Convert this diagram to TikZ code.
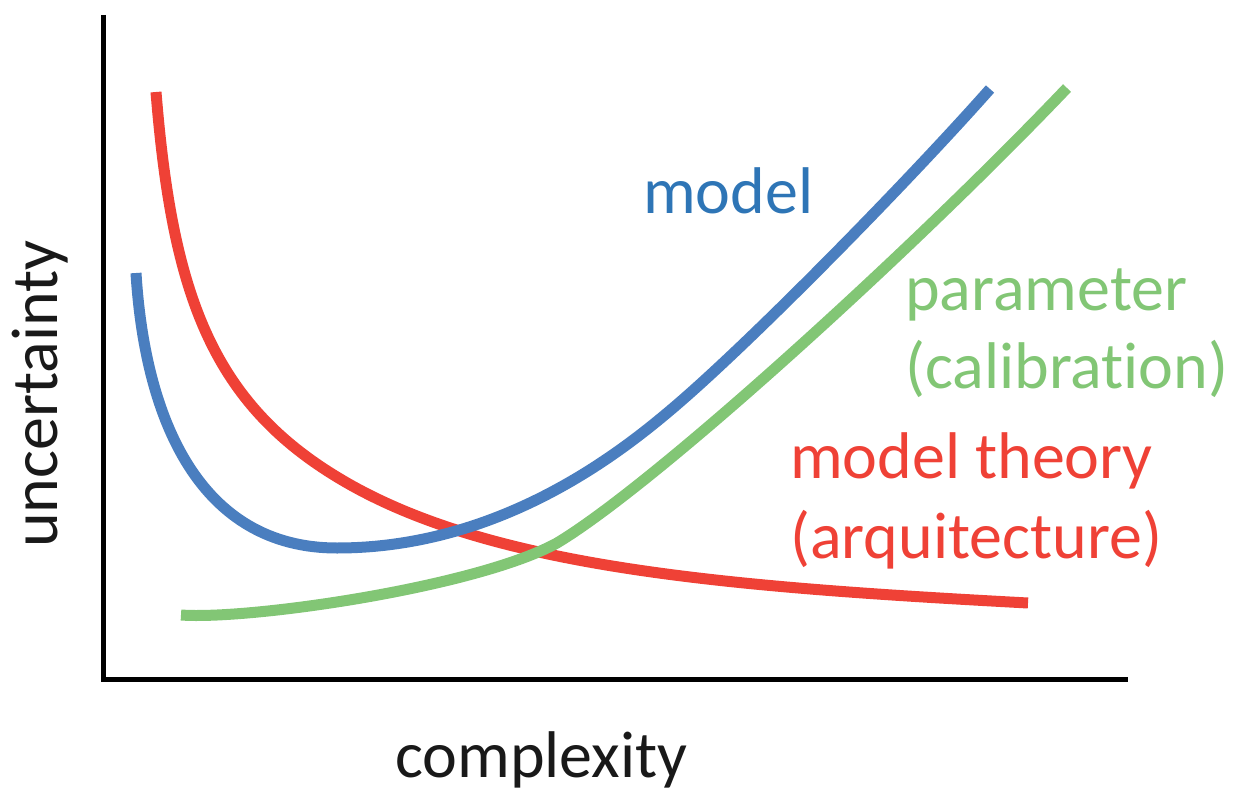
\documentclass[tikz,border=0pt]{standalone}
\usepackage{fontspec}
\setmainfont{Carlito}[Ligatures={NoCommon,NoDiscretionary,NoContextual}]
\definecolor{cred}{RGB}{239,65,54}
\definecolor{cblue}{RGB}{74,126,191}
\definecolor{cgreen}{RGB}{130,198,117}
\definecolor{tblue}{RGB}{46,117,182}
\begin{document}
\begin{tikzpicture}[x=1pt,y=-1pt,
  curve/.style={line width=11pt},
  axis/.style={line width=5pt,black},
  lbl/.style={inner sep=0pt,anchor=base west,font=\fontsize{66}{72}\selectfont}]
\useasboundingbox (0,0) rectangle (1251,797);
\coordinate (top) at (103,15);
\coordinate (origin) at (103,679);
\coordinate (right) at (1128,679);
\draw[axis] (top) -- (origin) -- (right);
% red: model theory
\draw[curve,cred] (156,92) .. controls (172,290) and (210,400) .. (337,477)
  .. controls (487,568.5) and (728,586.8) .. (1028,603);
% green: parameter
\draw[curve,cgreen] (181,615) .. controls (250,620) and (477,587) .. (557,543)
  .. controls (657,483) and (917,245.5) .. (1067,88);
% blue: model
\draw[curve,cblue] (136,273) .. controls (145,420) and (200,548) .. (337,548)
  .. controls (500,548) and (620,453) .. (673,408)
  .. controls (753,340) and (910,179.4) .. (990,89);
\node[lbl,tblue] (m) at (643,213) {model};
\node[lbl,cgreen] (p1) at (905,310) {parameter};
\node[lbl,cgreen] (p2) at (905,388) {(calibration)};
\node[lbl,cred] (t1) at (790,478) {model theory};
\node[lbl,cred] (t2) at (790,558) {(arquitecture)};
\node[lbl,black!90] (cx) at (395,777) {complexity};
\node[lbl,black!90,rotate=90] (u) at (57,548) {uncertainty};
\end{tikzpicture}
\end{document}
